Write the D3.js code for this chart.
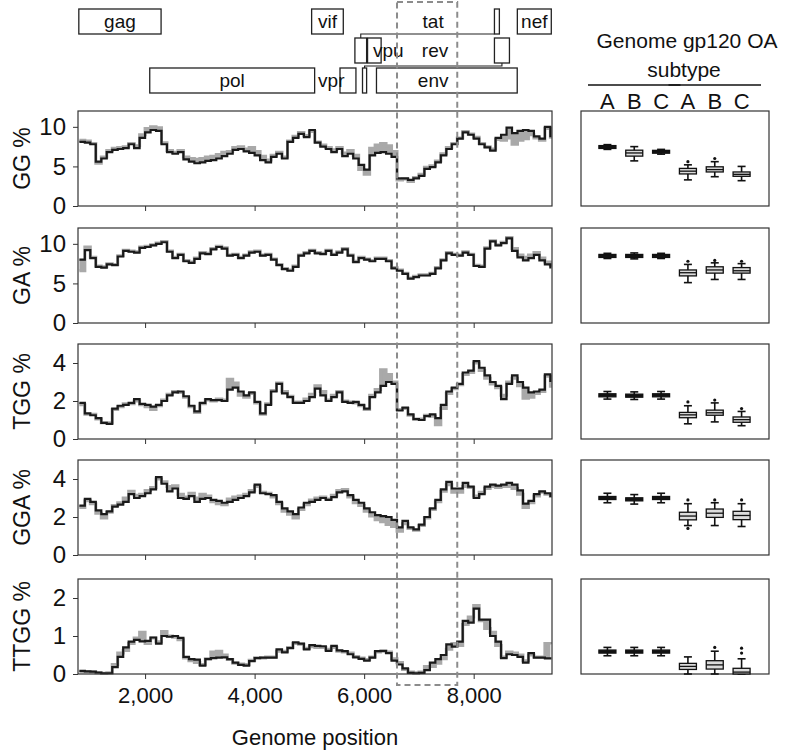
<!DOCTYPE html>
<html>
<head>
<meta charset="utf-8">
<script src="https://cdn.jsdelivr.net/npm/d3@7"></script>
<style>
  body { margin: 0; background: #fff; }
  text { font-family: "Liberation Sans", Arial, Helvetica, sans-serif; fill: #111; }
</style>
</head>
<body>
<svg id="chart" width="788" height="751"></svg>
<script>
// sliding-window positions (HXB2 coordinates)
const positions = [800, 900, 1000, 1100, 1200, 1300, 1400, 1500, 1600, 1700,
  1800, 1900, 2000, 2100, 2200, 2300, 2400, 2500, 2600, 2700,
  2800, 2900, 3000, 3100, 3200, 3300, 3400, 3500, 3600, 3700,
  3800, 3900, 4000, 4100, 4200, 4300, 4400, 4500, 4600, 4700,
  4800, 4900, 5000, 5100, 5200, 5300, 5400, 5500, 5600, 5700,
  5800, 5900, 6000, 6100, 6200, 6300, 6400, 6500, 6600, 6700,
  6800, 6900, 7000, 7100, 7200, 7300, 7400, 7500, 7600, 7700,
  7800, 7900, 8000, 8100, 8200, 8300, 8400, 8500, 8600, 8700,
  8800, 8900, 9000, 9100, 9200, 9300, 9400];

const metrics = ['GG', 'GA', 'TGG', 'GGA', 'TTGG'];
const yMaxes = [12, 12, 5, 5, 2.5];
const yTickValues = [[0, 5, 10], [0, 5, 10], [0, 2, 4], [0, 2, 4], [0, 1, 2]];
const xTickValues = [2000, 4000, 6000, 8000];
const gp120Window = [6600, 7700];

// black line = reference sequence, grey = range over subtypes
const ggLine = [8.1, 8.0, 7.8, 5.6, 6.0, 6.8, 7.1, 7.2, 7.3, 7.8,
  7.3, 8.6, 9.3, 9.6, 9.5, 7.8, 6.8, 6.6, 6.8, 5.9,
  5.6, 5.4, 5.5, 5.7, 5.8, 6.0, 6.3, 6.6, 7.1, 7.2,
  6.9, 6.7, 6.4, 5.8, 5.5, 6.2, 6.6, 6.0, 8.1, 8.6,
  9.1, 8.7, 9.6, 8.0, 7.5, 7.2, 6.8, 7.2, 6.3, 6.6,
  6.0, 5.2, 4.6, 6.4, 6.7, 6.8, 6.6, 6.2, 3.5, 3.5,
  3.3, 3.5, 3.8, 4.7, 4.9, 5.5, 6.4, 7.2, 7.8, 8.5,
  9.3, 9.0, 8.5, 7.8, 7.4, 7.0, 8.6, 9.0, 9.9, 9.2,
  9.5, 9.6, 9.5, 8.8, 8.5, 10.0, 8.7];
const ggRange = [8.3, 8.2, 7.9, 5.4, 6.2, 7.0, 7.3, 7.4, 7.5, 7.9,
  7.6, 9.0, 9.8, 10.0, 9.9, 8.0, 7.0, 6.8, 7.0, 6.2,
  6.0, 5.9, 6.0, 6.2, 6.3, 6.5, 6.8, 6.9, 7.4, 7.5,
  7.2, 7.4, 6.9, 6.3, 5.8, 6.4, 6.8, 6.2, 8.2, 8.8,
  9.3, 8.9, 9.4, 8.1, 7.7, 7.4, 7.1, 7.4, 6.7, 7.0,
  6.4, 4.6, 4.0, 7.3, 7.7, 7.9, 7.6, 6.9, 3.3, 3.4,
  3.1, 3.6, 4.0, 4.9, 5.1, 5.7, 6.6, 7.4, 7.9, 8.6,
  9.4, 9.1, 8.7, 7.9, 7.5, 7.2, 8.4, 8.3, 8.6, 7.8,
  8.3, 8.5, 9.0, 8.6, 8.3, 9.8, 8.5];

const gaLine = [8.0, 9.2, 8.2, 7.1, 7.0, 7.4, 7.3, 8.4, 9.1, 9.0,
  8.9, 9.5, 9.6, 9.8, 10.0, 10.2, 9.0, 8.2, 8.6, 7.8,
  7.6, 8.1, 8.8, 8.7, 9.3, 9.6, 9.4, 8.5, 8.6, 8.2,
  8.5, 8.9, 9.0, 8.5, 8.6, 8.0, 7.3, 6.8, 6.6, 7.1,
  8.5, 8.8, 9.1, 8.8, 8.7, 9.1, 8.6, 8.9, 9.3, 8.5,
  7.7, 8.2, 8.0, 7.8, 8.1, 8.1, 7.8, 6.9, 6.6, 6.2,
  5.6, 5.8, 6.0, 6.0, 6.2, 6.9, 7.9, 8.8, 8.6, 8.5,
  8.9, 8.6, 7.2, 7.1, 9.4, 10.3, 9.8, 10.1, 10.7, 9.1,
  8.3, 7.9, 8.2, 8.6, 7.9, 7.4, 6.9];
const gaRange = [6.6, 9.6, 8.3, 7.2, 7.1, 7.5, 7.4, 8.5, 9.2, 9.1,
  9.0, 9.6, 9.7, 9.9, 10.1, 10.3, 9.1, 8.3, 8.7, 7.9,
  7.7, 8.2, 8.9, 8.8, 9.4, 9.7, 9.5, 8.6, 8.7, 8.3,
  8.6, 9.0, 9.1, 8.6, 8.7, 8.1, 7.4, 6.9, 6.7, 7.2,
  8.6, 8.9, 9.2, 8.9, 8.8, 9.2, 8.7, 9.0, 9.4, 8.6,
  7.8, 8.3, 8.1, 7.9, 8.2, 8.2, 7.9, 7.0, 6.7, 6.3,
  5.7, 5.9, 6.1, 6.1, 6.3, 7.0, 8.0, 8.9, 8.7, 8.6,
  9.0, 8.7, 7.3, 7.2, 9.5, 10.4, 9.9, 10.2, 10.8, 9.4,
  8.6, 8.3, 8.6, 8.9, 8.2, 7.7, 7.1];

const tggLine = [1.9, 1.35, 1.25, 1.1, 0.85, 0.8, 1.6, 1.75, 1.8, 1.9,
  2.1, 1.85, 1.8, 1.7, 1.8, 2.0, 2.3, 2.45, 2.5, 2.25,
  1.75, 1.45, 1.9, 2.1, 2.05, 2.05, 2.0, 2.6, 2.7, 2.5,
  2.3, 2.45, 1.95, 1.35, 1.8, 2.5, 2.9, 2.4, 2.2, 1.9,
  1.9, 2.0, 2.2, 2.65, 2.3, 2.0, 2.2, 2.45, 1.95, 1.9,
  1.95, 1.8, 1.6, 2.2, 2.45, 2.8, 3.0, 2.9, 1.5, 1.65,
  1.3, 1.05, 1.0, 1.2, 1.3, 1.1, 1.8, 2.5, 2.7, 2.9,
  3.5, 3.6, 4.1, 3.75, 3.35, 3.0, 2.8, 2.1, 2.9, 3.35,
  3.0, 2.7, 2.45, 2.5, 2.6, 3.4, 3.0];
const tggRange = [1.8, 1.3, 1.3, 1.05, 0.85, 0.85, 1.55, 1.7, 1.85, 1.85,
  2.0, 1.8, 1.7, 1.55, 1.75, 2.05, 2.35, 2.5, 2.45, 2.2,
  1.7, 1.4, 1.85, 2.05, 2.0, 2.1, 2.05, 3.15, 2.95, 2.3,
  2.2, 2.4, 1.9, 1.3, 1.85, 2.55, 2.95, 2.5, 2.25, 1.95,
  1.95, 2.1, 2.35, 2.8, 2.5, 2.05, 2.3, 2.5, 2.0, 1.95,
  1.9, 1.75, 1.55, 2.3, 2.6, 3.65, 3.4, 3.0, 1.55, 1.6,
  1.25, 1.05, 1.05, 1.25, 1.2, 0.75, 1.6, 2.4, 2.65, 2.85,
  3.4, 3.5, 4.0, 3.6, 3.2, 2.9, 2.7, 2.3, 3.0, 3.2,
  2.8, 2.15, 2.2, 2.4, 2.5, 3.3, 2.7];

const ggaLine = [2.6, 2.95, 2.8, 2.35, 2.15, 2.3, 2.55, 2.65, 2.8, 3.2,
  3.0, 3.1, 3.25, 3.45, 4.1, 3.75, 3.35, 3.5, 3.0, 2.95,
  3.1, 2.8, 2.95, 3.0, 2.9, 2.85, 2.75, 2.8, 2.9, 3.0,
  3.1, 3.3, 3.7, 3.25, 3.2, 3.15, 2.8, 2.45, 2.3, 2.15,
  2.5, 2.75, 2.8, 2.9, 3.0, 2.9, 3.05, 3.3, 3.35, 3.15,
  2.9, 2.75, 2.45, 2.25, 2.1, 2.05, 2.0, 1.85, 1.45, 1.8,
  1.45, 1.35, 1.6, 2.0, 2.45, 2.9, 3.45, 3.85, 3.5, 3.5,
  3.8, 3.6, 3.0, 3.2, 3.6, 3.7, 3.65, 3.7, 3.8, 3.7,
  3.4, 2.7, 2.85, 3.2, 3.35, 3.25, 3.05];
const ggaRange = [2.5, 2.85, 2.7, 2.2, 1.95, 2.25, 2.6, 2.75, 3.0, 3.35,
  3.15, 3.2, 3.4, 3.55, 4.0, 3.85, 3.6, 3.65, 3.2, 3.05,
  3.25, 3.0, 3.2, 3.1, 2.8, 2.7, 2.65, 2.95, 3.05, 3.1,
  3.2, 3.4, 3.6, 3.3, 3.25, 3.05, 2.7, 2.3, 2.15, 1.95,
  2.4, 2.65, 2.9, 3.0, 3.05, 2.95, 3.15, 3.4, 3.45, 3.05,
  2.75, 2.6, 2.3, 2.05, 1.85, 1.75, 1.6, 1.5, 1.25, 1.65,
  1.4, 1.3, 1.55, 1.95, 2.4, 2.8, 3.35, 3.7, 3.3, 3.3,
  3.6, 3.55, 3.1, 3.3, 3.5, 3.6, 3.55, 3.6, 3.6, 3.5,
  3.2, 2.5, 2.75, 3.1, 3.3, 3.2, 3.0];

const ttggLine = [0.08, 0.07, 0.06, 0.04, 0.02, 0.02, 0.18, 0.45, 0.7, 0.85,
  0.9, 0.86, 0.87, 0.96, 0.8, 1.0, 0.98, 1.0, 0.95, 0.45,
  0.39, 0.38, 0.22, 0.39, 0.42, 0.43, 0.44, 0.39, 0.3, 0.24,
  0.22, 0.34, 0.42, 0.43, 0.43, 0.43, 0.65, 0.57, 0.68, 0.83,
  0.8, 0.65, 0.76, 0.74, 0.73, 0.61, 0.74, 0.62, 0.6, 0.52,
  0.44, 0.4, 0.35, 0.43, 0.6, 0.61, 0.55, 0.35, 0.25, 0.15,
  0.03, 0.02, 0.03, 0.1, 0.3, 0.39, 0.5, 0.78, 0.72, 0.85,
  1.4, 1.35, 1.72, 1.43, 1.43, 1.0, 0.85, 0.42, 0.52, 0.5,
  0.45, 0.3, 0.55, 0.43, 0.43, 0.41, 0.38];
const ttggRange = [0.06, 0.06, 0.05, 0.03, 0.02, 0.03, 0.25, 0.55, 0.62, 0.8,
  0.95, 1.1, 0.8, 0.95, 0.85, 1.12, 1.0, 0.97, 0.9, 0.42,
  0.35, 0.3, 0.25, 0.4, 0.58, 0.6, 0.5, 0.38, 0.28, 0.26,
  0.25, 0.36, 0.43, 0.42, 0.45, 0.45, 0.6, 0.6, 0.7, 0.8,
  0.78, 0.68, 0.72, 0.7, 0.7, 0.65, 0.7, 0.6, 0.58, 0.55,
  0.46, 0.42, 0.38, 0.45, 0.58, 0.6, 0.58, 0.4, 0.3, 0.12,
  0.05, 0.03, 0.05, 0.2, 0.2, 0.28, 0.4, 0.65, 0.8, 0.75,
  1.3, 1.5, 1.8, 1.4, 1.2, 1.1, 0.75, 0.45, 0.58, 0.55,
  0.5, 0.35, 0.5, 0.45, 0.45, 0.8, 0.78];

// box plots: [low whisker, q1, median, q3, high whisker]
const boxGroups = ['Genome A', 'Genome B', 'Genome C', 'gp120 A', 'gp120 B', 'gp120 C'];
const ggBoxes = [[7.15, 7.27, 7.45, 7.63, 7.75], [5.7, 6.3, 6.7, 7.05, 7.5], [6.55, 6.67, 6.85, 7.03, 7.15],
  [3.3, 4.05, 4.4, 4.75, 5.2], [3.7, 4.3, 4.6, 4.95, 5.6], [3.2, 3.75, 4.0, 4.3, 5.0]];
const ggOutliers = [[], [], [], [5.6], [6.0], []];
const gaBoxes = [[8.15, 8.28, 8.47, 8.66, 8.8], [8.1, 8.28, 8.47, 8.66, 8.85], [8.15, 8.28, 8.47, 8.66, 8.8],
  [5.1, 5.95, 6.35, 6.7, 7.4], [5.5, 6.3, 6.7, 7.1, 7.6], [5.5, 6.3, 6.6, 7.0, 7.5]];
const gaOutliers = [[], [], [], [7.8], [7.9], [7.8]];
const tggBoxes = [[2.1, 2.22, 2.3, 2.38, 2.5], [2.08, 2.2, 2.28, 2.36, 2.48], [2.1, 2.22, 2.3, 2.38, 2.5],
  [0.8, 1.12, 1.27, 1.4, 1.75], [0.9, 1.25, 1.38, 1.52, 1.9], [0.7, 0.88, 1.02, 1.16, 1.45]];
const tggOutliers = [[], [], [], [1.95], [2.05], [1.6]];
const ggaBoxes = [[2.75, 2.92, 3.0, 3.08, 3.25], [2.68, 2.85, 2.93, 3.01, 3.18], [2.75, 2.92, 3.0, 3.08, 3.25],
  [1.55, 1.85, 2.05, 2.25, 2.7], [1.55, 1.98, 2.2, 2.42, 2.75], [1.5, 1.86, 2.08, 2.3, 2.7]];
const ggaOutliers = [[], [], [], [2.9, 1.4], [2.9], [2.9]];
const ttggBoxes = [[0.48, 0.55, 0.59, 0.63, 0.7], [0.48, 0.55, 0.59, 0.63, 0.7], [0.48, 0.55, 0.59, 0.63, 0.7],
  [0.0, 0.12, 0.2, 0.28, 0.45], [0.0, 0.13, 0.24, 0.35, 0.6], [0.0, 0.0, 0.05, 0.15, 0.4]];
const ttggOutliers = [[], [], [], [], [0.7], [0.55, 0.68]];

// HXB2 gene map (start, end, row)
const genes = [
  { name: 'gag', start: 790, end: 2292, row: 0 },
  { name: 'pol', start: 2085, end: 5096, row: 2 },
  { name: 'vif', start: 5041, end: 5619, row: 0 },
  { name: 'vpr', start: 5559, end: 5850, row: 2 },
  { name: 'tat1', start: 5831, end: 6045, row: 1 },
  { name: 'rev1', start: 5970, end: 6045, row: 2 },
  { name: 'vpu', start: 6062, end: 6310, row: 1 },
  { name: 'env', start: 6225, end: 8795, row: 2 },
  { name: 'tat2', start: 8379, end: 8469, row: 0 },
  { name: 'rev2', start: 8379, end: 8653, row: 1 },
  { name: 'nef', start: 8797, end: 9417, row: 0 }
];
const geneLabels = [
  { name: 'gag', pos: 1541, row: 0 }, { name: 'vif', pos: 5330, row: 0 },
  { name: 'tat', pos: 7260, row: 0 }, { name: 'nef', pos: 9107, row: 0 },
  { name: 'vpu', pos: 6440, row: 1 }, { name: 'rev', pos: 7295, row: 1 },
  { name: 'pol', pos: 3590, row: 2 }, { name: 'vpr', pos: 5400, row: 2 },
  { name: 'env', pos: 7260, row: 2 }
];

const lines = [ggLine, gaLine, tggLine, ggaLine, ttggLine];
const ranges = [ggRange, gaRange, tggRange, ggaRange, ttggRange];
const boxes = [ggBoxes, gaBoxes, tggBoxes, ggaBoxes, ttggBoxes];
const outliers = [ggOutliers, gaOutliers, tggOutliers, ggaOutliers, ttggOutliers];

const svg = d3.select('#chart');
const panelTops = [111, 228, 344, 460, 579];
const panelH = 95;
const left = 78, right = 552;
const boxLeft = 581, boxRight = 769;

const x = d3.scaleLinear().domain([775, 9430]).range([left, right]);
const bx = d3.scaleBand().domain(d3.range(boxGroups.length)).range([594, 755]);

// gene map
const rowTop = [9, 38, 68], rowH = 25;
const gm = svg.append('g');
gm.selectAll('rect').data(genes).join('rect')
  .attr('x', d => x(d.start)).attr('y', d => rowTop[d.row])
  .attr('width', d => x(d.end) - x(d.start)).attr('height', rowH)
  .attr('fill', 'none').attr('stroke', '#222').attr('stroke-width', 1.3);
// splice connectors for tat and rev
const tatMid = (5831 + 6045) / 2, rev1Mid = (5970 + 6045) / 2, rev2Mid = (8379 + 8653) / 2;
gm.append('path')
  .attr('d', `M${x(tatMid)},${rowTop[1]}V${rowTop[0] + rowH}H${x(8379)}`)
  .attr('fill', 'none').attr('stroke', '#222').attr('stroke-width', 1.1);
gm.append('path')
  .attr('d', `M${x(rev1Mid)},${rowTop[2]}V${rowTop[2] - 2}H${x(rev2Mid)}V${rowTop[1] + rowH}`)
  .attr('fill', 'none').attr('stroke', '#222').attr('stroke-width', 1.1);
gm.selectAll('text').data(geneLabels).join('text')
  .attr('x', d => x(d.pos)).attr('y', d => rowTop[d.row] + rowH / 2)
  .attr('dy', '0.35em').attr('text-anchor', 'middle')
  .attr('font-size', 19).text(d => d.name);

// box plot header
const hdr = svg.append('g');
hdr.append('text').attr('x', 687).attr('y', 48).attr('text-anchor', 'middle')
  .attr('font-size', 21).text('Genome gp120 OA');
hdr.append('text').attr('x', 684).attr('y', 77).attr('text-anchor', 'middle')
  .attr('font-size', 21).text('subtype');
[[0, 2], [3, 5]].forEach(([a, b]) => {
  hdr.append('line')
    .attr('x1', bx(a) - 6).attr('x2', bx(b) + bx.bandwidth() + 6)
    .attr('y1', 85).attr('y2', 85).attr('stroke', '#111').attr('stroke-width', 1.3);
});
hdr.selectAll('.grp').data(boxGroups).join('text').attr('class', 'grp')
  .attr('x', (d, i) => bx(i) + bx.bandwidth() / 2).attr('y', 109)
  .attr('text-anchor', 'middle').attr('font-size', 22)
  .text(d => d.split(' ')[1]);

metrics.forEach((m, i) => {
  const top = panelTops[i], bottom = top + panelH;
  const y = d3.scaleLinear().domain([0, yMaxes[i]]).range([bottom, top]);
  const g = svg.append('g');
  const pts = positions.map((p, j) => ({ p: p, v: lines[i][j], a: ranges[i][j] }));

  g.append('path').datum(pts)
    .attr('d', d3.area().curve(d3.curveStepAfter).x(d => x(d.p)).y0(d => y(d.v)).y1(d => y(d.a)))
    .attr('fill', '#a9a9a9');
  g.append('path').datum(pts)
    .attr('d', d3.line().curve(d3.curveStepAfter).x(d => x(d.p)).y(d => y(d.a)))
    .attr('fill', 'none').attr('stroke', '#a9a9a9').attr('stroke-width', 3);
  g.append('path').datum(pts)
    .attr('d', d3.line().curve(d3.curveStepAfter).x(d => x(d.p)).y(d => y(d.v)))
    .attr('fill', 'none').attr('stroke', '#1a1a1a').attr('stroke-width', 2.2);

  g.append('rect').attr('x', left).attr('y', top).attr('width', right - left).attr('height', panelH)
    .attr('fill', 'none').attr('stroke', '#333').attr('stroke-width', 1.2);

  const ya = g.append('g').attr('transform', `translate(${left},0)`)
    .call(d3.axisLeft(y).tickValues(yTickValues[i]).tickSize(5).tickPadding(7).tickFormat(d3.format('d')));
  ya.select('.domain').remove();
  ya.selectAll('text').attr('font-size', 24).attr('font-family', null).attr('fill', '#111');
  ya.selectAll('line').attr('stroke', '#333');

  const xa = g.append('g').attr('transform', `translate(0,${bottom})`)
    .call(d3.axisBottom(x).tickValues(xTickValues).tickSize(5).tickPadding(8).tickFormat(d3.format(',')));
  xa.select('.domain').remove();
  xa.selectAll('line').attr('stroke', '#333');
  xa.selectAll('text').attr('font-size', 22).attr('font-family', null).attr('fill', '#111');
  if (i < metrics.length - 1) xa.selectAll('text').remove();

  g.append('text')
    .attr('transform', `translate(22,${top + panelH / 2}) rotate(-90)`)
    .attr('text-anchor', 'middle').attr('dy', '0.35em')
    .attr('font-size', 23).text(m + ' %');

  // box plots
  const bg = svg.append('g');
  bg.append('rect').attr('x', boxLeft).attr('y', top).attr('width', boxRight - boxLeft).attr('height', panelH)
    .attr('fill', 'none').attr('stroke', '#333').attr('stroke-width', 1.2);
  boxes[i].forEach((b, k) => {
    const cx = bx(k) + bx.bandwidth() / 2;
    const bw = 17, cap = 8;
    const [lo, q1, med, q3, hi] = b;
    const thin = y(q1) - y(q3) < 4;
    bg.append('line').attr('x1', cx).attr('x2', cx).attr('y1', y(lo)).attr('y2', y(hi))
      .attr('stroke', '#111').attr('stroke-width', 1.6);
    [lo, hi].forEach(v => bg.append('line')
      .attr('x1', cx - cap / 2).attr('x2', cx + cap / 2).attr('y1', y(v)).attr('y2', y(v))
      .attr('stroke', '#111').attr('stroke-width', 1.6));
    bg.append('rect').attr('x', cx - bw / 2).attr('y', y(q3)).attr('width', bw)
      .attr('height', Math.max(1, y(q1) - y(q3)))
      .attr('fill', thin ? '#1a1a1a' : '#dcdcdc').attr('stroke', '#111').attr('stroke-width', 1.3);
    bg.append('line').attr('x1', cx - bw / 2).attr('x2', cx + bw / 2).attr('y1', y(med)).attr('y2', y(med))
      .attr('stroke', '#111').attr('stroke-width', 1.3);
    outliers[i][k].forEach(v => bg.append('circle').attr('cx', cx).attr('cy', y(v)).attr('r', 1.6).attr('fill', '#111'));
  });
});

svg.append('text').attr('x', (left + right) / 2).attr('y', 745).attr('text-anchor', 'middle')
  .attr('font-size', 22).text('Genome position');

// gp120 window
svg.append('rect')
  .attr('x', x(gp120Window[0])).attr('y', 2)
  .attr('width', x(gp120Window[1]) - x(gp120Window[0])).attr('height', 683)
  .attr('fill', 'none').attr('stroke', '#8c8c8c').attr('stroke-width', 2)
  .attr('stroke-dasharray', '6,4');
</script>
</body>
</html>
